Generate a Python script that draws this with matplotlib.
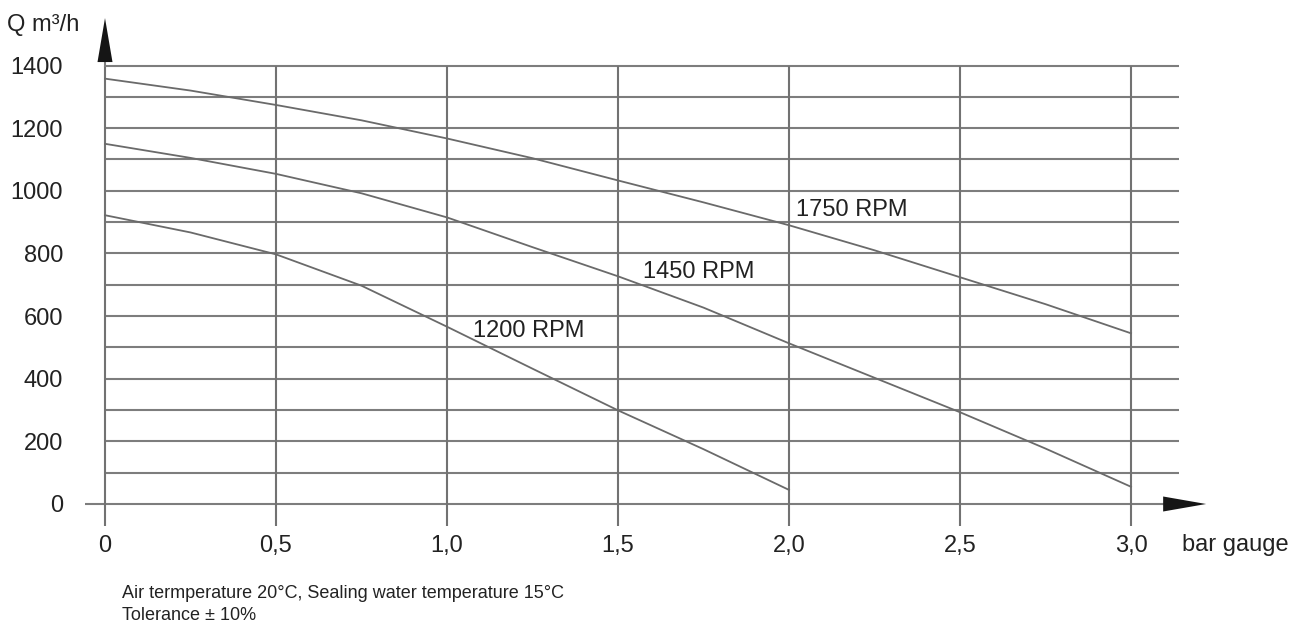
#!/usr/bin/env python3
"""Fan performance curves: air flow vs. pressure for three speeds."""

import matplotlib
matplotlib.use("Agg")
import matplotlib.pyplot as plt
from matplotlib.patches import Polygon

plt.rcParams["font.family"] = ["Liberation Sans", "DejaVu Sans"]

# pressure (bar gauge) and flow (m3/h)
P_1750 = [0, 0.25, 0.5, 0.75, 1.0, 1.25, 1.5, 1.75, 2.0, 2.25, 2.5, 2.75, 3.0]
Q_1750 = [1358, 1320, 1274, 1225, 1167, 1104, 1033, 963, 890, 810, 724, 638, 545]

P_1450 = [0, 0.25, 0.5, 0.75, 1.0, 1.25, 1.5, 1.75, 2.0, 2.25, 2.5, 2.75, 3.0]
Q_1450 = [1150, 1105, 1054, 992, 915, 820, 727, 627, 513, 403, 293, 177, 55]

P_1200 = [0, 0.25, 0.5, 0.75, 1.0, 1.25, 1.5, 1.75, 2.0]
Q_1200 = [922, 867, 797, 697, 566, 432, 299, 175, 45]

curve_labels = ["1750 RPM", "1450 RPM", "1200 RPM"]
label_pos = [(2.02, 940), (1.572, 740), (1.075, 553)]

x_ticks = [0, 0.5, 1.0, 1.5, 2.0, 2.5, 3.0]
x_ticklabels = ["0", "0,5", "1,0", "1,5", "2,0", "2,5", "3,0"]
y_ticks = [0, 200, 400, 600, 800, 1000, 1200, 1400]
y_grid = list(range(0, 1500, 100))

notes = ["Air termperature 20°C, Sealing water temperature 15°C",
         "Tolerance ± 10%"]

W, H = 1301, 630
GRID = "#7d7d7d"
CURVE = "#6a6a6a"
TEXT = "#222222"
FS = 17

fig = plt.figure(figsize=(W / 100, H / 100), dpi=100)
fig.patch.set_facecolor("white")
ax = fig.add_axes([105 / W, (H - 504) / H, (1131 - 105) / W, (504 - 65.5) / H])
ax.set_xlim(0, 3)
ax.set_ylim(0, 1400)
ax.axis("off")

# data units per pixel
dx = 3 / (1131 - 105)
dy = 1400 / (504 - 65.5)

# horizontal grid, zero line reaches a bit further left
x_end = (1179 - 105) * dx
for q in y_grid:
    x0 = -20 * dx if q == 0 else 0
    ax.plot([x0, x_end], [q, q], color=GRID, lw=1.5, clip_on=False,
            solid_capstyle="butt", zorder=1)

# vertical grid, running a little below zero
y_low = -22 * dy
for p in x_ticks:
    ax.plot([p, p], [y_low, 1400], color="#727272", lw=1.5, clip_on=False,
            solid_capstyle="butt", zorder=1)

# axis lines up to the arrows
ax.plot([0, 0], [1400, 1411], color=GRID, lw=1.5, clip_on=False, zorder=1)
ax.plot([x_end, 3.094], [0, 0], color=GRID, lw=1.5, clip_on=False, zorder=1)

# arrow heads
hw = 7.5
y_arrow = Polygon([(-hw * dx, 1411), (hw * dx, 1411), (0, 1411 + 44 * dy)],
                  closed=True, facecolor="#151515", edgecolor="none",
                  clip_on=False, zorder=3)
x_arrow = Polygon([(3.094, -hw * dy), (3.094, hw * dy), (3.094 + 43 * dx, 0)],
                  closed=True, facecolor="#151515", edgecolor="none",
                  clip_on=False, zorder=3)
ax.add_patch(y_arrow)
ax.add_patch(x_arrow)

# curves
for P, Q in [(P_1750, Q_1750), (P_1450, Q_1450), (P_1200, Q_1200)]:
    ax.plot(P, Q, color=CURVE, lw=1.3, clip_on=False, zorder=2)

for lab, (px, py) in zip(curve_labels, label_pos):
    ax.text(px, py, lab, fontsize=FS, color=TEXT, ha="left", va="center",
            zorder=4)

# tick labels
for p, lab in zip(x_ticks, x_ticklabels):
    ax.text(p, -42 * dy, lab, fontsize=FS, color=TEXT, ha="center",
            va="center", clip_on=False)
for q in y_ticks:
    ax.text(-42 * dx, q - 2.5 * dy, str(q), fontsize=FS, color=TEXT,
            ha="right", va="center", clip_on=False)

# axis titles
fig.text(7 / W, 1 - 25 / H, "Q m³/h", fontsize=FS, color=TEXT,
         ha="left", va="center")
fig.text(1182 / W, 1 - 545 / H, "bar gauge", fontsize=FS, color=TEXT,
         ha="left", va="center")

# footnotes
fig.text(122 / W, 1 - 594 / H, notes[0], fontsize=13, color=TEXT,
         ha="left", va="center")
fig.text(122 / W, 1 - 615 / H, notes[1], fontsize=13, color=TEXT,
         ha="left", va="center")

fig.savefig("out.png", dpi=100)
